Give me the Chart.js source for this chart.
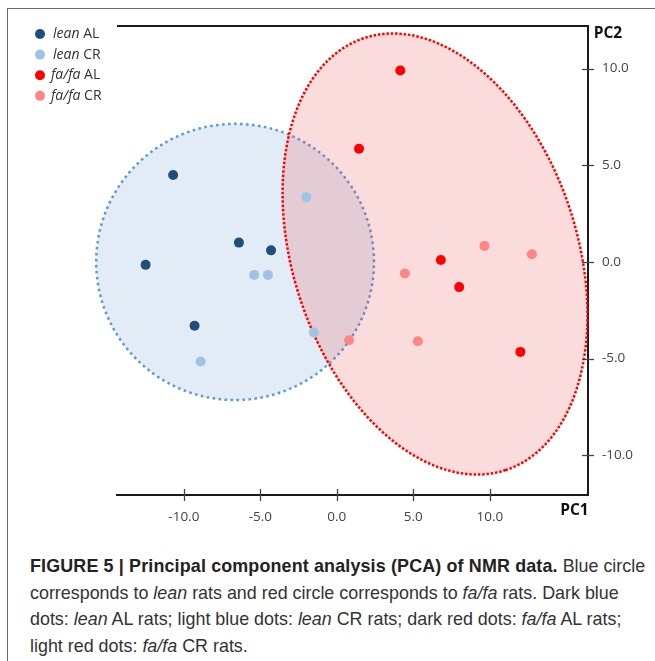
<!DOCTYPE html>
<html>
<head>
<meta charset="utf-8">
<script src="https://cdn.jsdelivr.net/npm/chart.js@4.4.0/dist/chart.umd.min.js"></script>
<style>
  body { margin: 0; background: #fff; }
  #frame { position: absolute; left: 7px; top: 8px; width: 700px; height: 700px;
           border-left: 1.5px solid #6a6a6a; border-top: 1.5px solid #6a6a6a; }
  #wrap { position: absolute; left: 0; top: 0; width: 655px; height: 530px; }
  #caption { position: absolute; left: 30px; top: 553px; font-family: "Liberation Sans", Arial, sans-serif;
             font-size: 17.9px; line-height: 26.7px; color: #333; white-space: nowrap; }
  #caption b { color: #222; letter-spacing: 0.15px; }
</style>
</head>
<body>
<div id="frame"></div>
<div id="wrap"><canvas id="pca" width="655" height="530"></canvas></div>
<div id="caption"><b>FIGURE 5 | Principal component analysis (PCA) of NMR data.</b> Blue circle<br>corresponds to <i>lean</i> rats and red circle corresponds to <i>fa/fa</i> rats. Dark blue<br>dots: <i>lean</i> AL rats; light blue dots: <i>lean</i> CR rats; dark red dots: <i>fa/fa</i> AL rats;<br>light red dots: <i>fa/fa</i> CR rats.</div>

<script>
// PC1 / PC2 scores
const leanAL = [
    {x: -10.7, y: 4.5}, {x: -6.4, y: 1.0}, {x: -4.3, y: 0.6},
    {x: -12.5, y: -0.15}, {x: -9.3, y: -3.3}
];
const leanCR = [
    {x: -2.0, y: 3.35}, {x: -5.4, y: -0.67}, {x: -4.5, y: -0.67},
    {x: -1.5, y: -3.65}, {x: -8.9, y: -5.15}
];
const fafaAL = [
    {x: 4.15, y: 9.9}, {x: 1.45, y: 5.85}, {x: 6.8, y: 0.1},
    {x: 8.0, y: -1.3}, {x: 12.0, y: -4.65}
];
const fafaCR = [
    {x: 9.65, y: 0.83}, {x: 12.75, y: 0.4}, {x: 4.45, y: -0.6},
    {x: 5.3, y: -4.1}, {x: 0.8, y: -4.05}
];

const seriesItalic = ['lean', 'lean', 'fa/fa', 'fa/fa'];
const seriesSuffix = ['AL', 'CR', 'AL', 'CR'];
const seriesColors = ['#1f4e79', '#9dc3e6', '#ff0000', '#ff8585'];

const xTicks = [-10, -5, 0, 5, 10];
const yTicks = [-10, -5, 0, 5, 10];

// group ellipses: centre and the two semi-axes, in data units
const leanEllipse = {center: [-6.65, 0], axisU: [9.08, 0], axisV: [0, 7.14]};
const fafaEllipse = {center: [6.42, 0.41], axisU: [4.62, -11.17], axisV: [-8.83, -2.29]};

const tickFont = {family: '"Open Sans", sans-serif', size: 13.5};

function drawEllipse(chart, e, fill, stroke, dash) {
    const xs = chart.scales.x, ys = chart.scales.y, ctx = chart.ctx;
    const cx = xs.getPixelForValue(e.center[0]);
    const cy = ys.getPixelForValue(e.center[1]);
    const ux = xs.getPixelForValue(e.center[0] + e.axisU[0]) - cx;
    const uy = ys.getPixelForValue(e.center[1] + e.axisU[1]) - cy;
    const vx = xs.getPixelForValue(e.center[0] + e.axisV[0]) - cx;
    const vy = ys.getPixelForValue(e.center[1] + e.axisV[1]) - cy;
    ctx.save();
    ctx.beginPath();
    for (let i = 0; i <= 360; i++) {
        const t = i * Math.PI / 180;
        const px = cx + ux * Math.cos(t) + vx * Math.sin(t);
        const py = cy + uy * Math.cos(t) + vy * Math.sin(t);
        if (i === 0) ctx.moveTo(px, py); else ctx.lineTo(px, py);
    }
    ctx.closePath();
    ctx.fillStyle = fill;
    ctx.fill();
    ctx.setLineDash(dash);
    ctx.lineWidth = 2.5;
    ctx.strokeStyle = stroke;
    ctx.stroke();
    ctx.restore();
}

const ellipsePlugin = {
    id: 'ellipses',
    beforeDatasetsDraw(chart) {
        drawEllipse(chart, leanEllipse, '#e2ecf6', '#5b9bd5', [2.6, 3.4]);
        drawEllipse(chart, fafaEllipse, 'rgba(235, 60, 60, 0.18)', '#ff0000', [2.5, 1.8]);
    }
};

const framePlugin = {
    id: 'frameBits',
    afterDraw(chart) {
        const ctx = chart.ctx, a = chart.chartArea;
        const xs = chart.scales.x, ys = chart.scales.y;
        ctx.save();
        ctx.strokeStyle = '#1a1a1a';
        ctx.lineWidth = 2;
        // top line of the box
        ctx.beginPath();
        ctx.moveTo(a.left, a.top);
        ctx.lineTo(a.right, a.top);
        ctx.stroke();
        // ticks that cross the axes
        ctx.strokeStyle = '#444';
        ctx.lineWidth = 1.3;
        xs.ticks.forEach(t => {
            const px = Math.round(xs.getPixelForValue(t.value)) + 0.5;
            ctx.beginPath();
            ctx.moveTo(px, a.bottom - 6);
            ctx.lineTo(px, a.bottom + 6);
            ctx.stroke();
        });
        ys.ticks.forEach(t => {
            const py = Math.round(ys.getPixelForValue(t.value)) + 0.5;
            ctx.beginPath();
            ctx.moveTo(a.right - 6, py);
            ctx.lineTo(a.right + 6, py);
            ctx.stroke();
        });
        // axis names
        ctx.fillStyle = '#111';
        ctx.font = 'bold 15.5px "Open Sans", sans-serif';
        ctx.textAlign = 'center';
        ctx.textBaseline = 'middle';
        ctx.fillText('PC1', 574.5, 511);
        ctx.fillText('PC2', 608, 34);

        // legend with italic strain names
        chart.data.datasets.forEach((ds, i) => {
            const y = 34 + i * 20.6;
            ctx.beginPath();
            ctx.arc(40, y, 5, 0, Math.PI * 2);
            ctx.fillStyle = ds.backgroundColor;
            ctx.fill();
            ctx.textAlign = 'left';
            ctx.fillStyle = '#333';
            ctx.font = 'italic 14px "Open Sans", sans-serif';
            const x0 = i < 2 ? 53 : 51;
            ctx.fillText(seriesItalic[i], x0, y);
            const w = ctx.measureText(seriesItalic[i] + ' ').width;
            ctx.font = '14px "Open Sans", sans-serif';
            ctx.fillText(seriesSuffix[i], x0 + w, y);
        });
        ctx.restore();
    }
};

const datasets = [leanAL, leanCR, fafaAL, fafaCR].map((pts, i) => ({
    label: seriesItalic[i] + ' ' + seriesSuffix[i],
    data: pts,
    backgroundColor: seriesColors[i],
    borderWidth: 0,
    pointRadius: 5,
    pointHoverRadius: 5
}));

new Chart(document.getElementById('pca'), {
    type: 'scatter',
    data: {datasets: datasets},
    options: {
        responsive: false,
        animation: false,
        layout: {padding: {left: 117, top: 26, right: 0, bottom: 0}},
        plugins: {legend: {display: false}, tooltip: {enabled: false}},
        scales: {
            x: {
                type: 'linear',
                position: 'bottom',
                min: -14.37,
                max: 16.42,
                afterBuildTicks: s => { s.ticks = xTicks.map(v => ({value: v})); },
                afterFit: s => { s.height = 35; },
                grid: {display: false, drawTicks: false},
                border: {display: true, color: '#1a1a1a', width: 2},
                ticks: {padding: 14, color: '#444', font: tickFont, callback: v => v.toFixed(1), maxRotation: 0}
            },
            y: {
                type: 'linear',
                position: 'right',
                min: -12.05,
                max: 12.2,
                afterBuildTicks: s => { s.ticks = yTicks.map(v => ({value: v})); },
                afterFit: s => { s.width = 67; },
                grid: {display: false, drawTicks: false},
                border: {display: true, color: '#1a1a1a', width: 2},
                ticks: {padding: 14, color: '#444', font: tickFont, callback: v => v.toFixed(1)}
            }
        }
    },
    plugins: [ellipsePlugin, framePlugin]
});
</script>
</body>
</html>
